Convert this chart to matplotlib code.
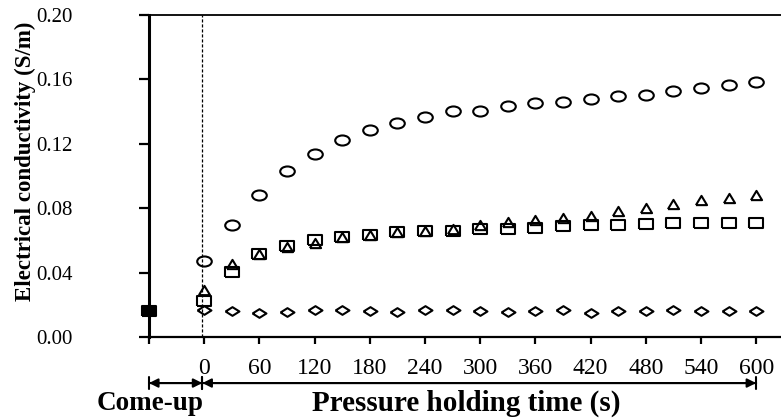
import numpy as np
import matplotlib
matplotlib.use('Agg')
import matplotlib.pyplot as plt
import matplotlib.transforms as mtransforms
from matplotlib.path import Path

plt.rcParams['font.family'] = 'Liberation Serif'

# conductivity (S/m) during pressure holding, sampled every 30 s
hold_time = [0, 30, 60, 90, 120, 150, 180, 210, 240, 270, 300,
             330, 360, 390, 420, 450, 480, 510, 540, 570, 600]
circle_vals = [0.0470, 0.0696, 0.0882, 0.1030, 0.1137, 0.1224, 0.1286, 0.1330, 0.1367, 0.1404, 0.1404,
               0.1435, 0.1453, 0.1460, 0.1480, 0.1500, 0.1503, 0.1528, 0.1547, 0.1565, 0.1584]
triangle_vals = [0.0295, 0.0455, 0.0515, 0.0560, 0.0585, 0.0620, 0.0635, 0.0650, 0.0660, 0.0672, 0.0693,
                 0.0713, 0.0724, 0.0740, 0.0750, 0.0780, 0.0800, 0.0823, 0.0848, 0.0865, 0.0885]
square_vals = [0.0226, 0.0406, 0.0513, 0.0567, 0.0602, 0.0623, 0.0634, 0.0652, 0.0658, 0.0660, 0.0669,
               0.0669, 0.0679, 0.0690, 0.0696, 0.0696, 0.0702, 0.0706, 0.0706, 0.0710, 0.0706]
diamond_vals = [0.0168, 0.0161, 0.0150, 0.0157, 0.0168, 0.0168, 0.0161, 0.0155, 0.0168, 0.0168, 0.0160,
                0.0155, 0.0160, 0.0168, 0.0150, 0.0160, 0.0160, 0.0168, 0.0160, 0.0160, 0.0160]

# come-up point (all samples overlap here)
comeup_time = [-60]
comeup_vals = [0.0161]

x_ticks = [-60, 0, 60, 120, 180, 240, 300, 360, 420, 480, 540, 600]
x_ticklabels = [''] + [str(t) for t in x_ticks[1:]]
y_ticks = [0.00, 0.04, 0.08, 0.12, 0.16, 0.20]

# wide markers
ellipse = Path.unit_circle().transformed(mtransforms.Affine2D().scale(1.45, 1.0))
rect = [(-1.39, -1), (1.39, -1), (1.39, 1), (-1.39, 1), (-1.39, -1)]
rhombus = [(-1.6, 0), (0, 1), (1.6, 0), (0, -1), (-1.6, 0)]
tri = [(-0.6, -0.5), (0.6, -0.5), (0, 0.5), (-0.6, -0.5)]

fig = plt.figure(figsize=(7.81, 4.18), dpi=100)
ax = fig.add_axes([149 / 781, 1 - 337 / 418, 1 - 149 / 781, (337 - 15) / 418])

mk = dict(linestyle='none', markerfacecolor='none', markeredgecolor='black', markeredgewidth=1.5, clip_on=False)
ax.plot(hold_time, diamond_vals, marker=rhombus, markersize=10, **mk)
ax.plot(hold_time, square_vals, marker=rect, markersize=10, **mk)
ax.plot(hold_time, triangle_vals, marker=tri, markersize=8, **mk)
ax.plot(hold_time, circle_vals, marker=ellipse, markersize=10.5, **mk)
ax.plot(comeup_time, comeup_vals, linestyle='none', marker=rect, markersize=10,
        markerfacecolor='black', markeredgecolor='black', markeredgewidth=1.5, clip_on=False, zorder=5)

# start of pressure holding
ax.axvline(-2, color='black', linestyle=(0, (2.5, 1.5)), linewidth=0.9)

ax.set_xlim(-60, 627)
ax.set_ylim(0, 0.20)
ax.set_xticks(x_ticks)
ax.set_xticklabels(x_ticklabels)
ax.set_yticks(y_ticks)
ax.set_yticklabels([f'{v:.2f}' for v in y_ticks])

ax.spines['right'].set_visible(False)
ax.spines['left'].set_linewidth(2.2)
ax.spines['bottom'].set_linewidth(1.6)
ax.spines['top'].set_linewidth(1.3)
ax.tick_params(axis='y', direction='out', length=7, width=1.6, labelsize=15, pad=48)
ax.tick_params(axis='x', direction='out', length=5, width=1.6, labelsize=17, pad=10)

# time-span arrows below the axis
trans = ax.get_xaxis_transform()
arrow_y = -0.143
for x0, x1 in [(-60, -2), (-2, 600)]:
    ax.annotate('', xy=(x1, arrow_y), xytext=(x0, arrow_y), xycoords=trans, annotation_clip=False,
                arrowprops=dict(arrowstyle='<|-|>', color='black', lw=1.5, shrinkA=0, shrinkB=0,
                                mutation_scale=13))
    ax.annotate('', xy=(x1, arrow_y), xytext=(x0, arrow_y), xycoords=trans, annotation_clip=False,
                arrowprops=dict(arrowstyle='|-|,widthA=0.35,widthB=0.35', color='black', lw=1.5,
                                shrinkA=0, shrinkB=0, mutation_scale=13))

fig.text(150 / 781, 1 - 403 / 418, 'Come-up', ha='center', va='center', fontsize=19.5, fontweight='bold')
fig.text(466 / 781, 1 - 403 / 418, 'Pressure holding time (s)', ha='center', va='center',
         fontsize=21, fontweight='bold')
fig.text(25 / 781, 1 - 161 / 418, 'Electrical conductivity (S/m)', ha='center', va='center',
         rotation=90, fontsize=16.5, fontweight='bold')

fig.savefig('out.png', dpi=100)
